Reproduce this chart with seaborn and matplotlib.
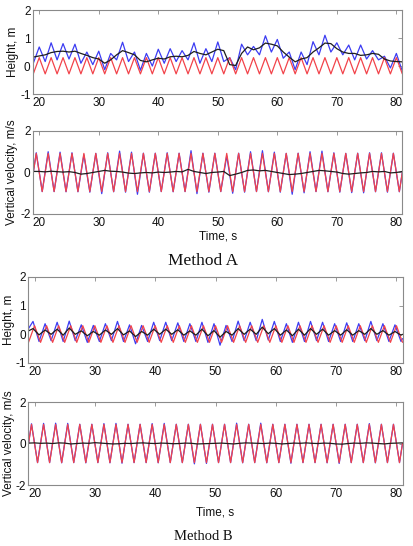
import numpy as np
import matplotlib
matplotlib.use('Agg')
import matplotlib.pyplot as plt
import seaborn as sns

# time grids (s)
t_h = np.arange(19, 82)                                                  # 19..81, one value per second
t_v = np.concatenate([[19.0], np.arange(19.5, 81.0, 1.0), [81.0]])       # velocity extrema
t_b = np.concatenate([[19.0], np.arange(19.75, 81.0, 1.0), [81.0]])      # method B height extrema

# reference (red) signals, same in both methods
red_height = [-0.28, 0.30, -0.28, 0.30, -0.28, 0.30, -0.28, 0.30, -0.28, 0.30,
              -0.28, 0.30, -0.28, 0.30, -0.28, 0.30, -0.28, 0.30, -0.28, 0.30,
              -0.28, 0.30, -0.28, 0.30, -0.28, 0.30, -0.28, 0.30, -0.28, 0.30,
              -0.28, 0.30, -0.28, 0.30, -0.28, 0.30, -0.28, 0.30, -0.28, 0.30,
              -0.28, 0.30, -0.28, 0.30, -0.28, 0.30, -0.28, 0.30, -0.28, 0.30,
              -0.28, 0.30, -0.28, 0.30, -0.28, 0.30, -0.28, 0.30, -0.28, 0.30,
              -0.28, 0.30, -0.28]
red_velocity = [0.0,
                0.92, -0.92, 0.92, -0.92, 0.92, -0.92, 0.92, -0.92, 0.92, -0.92,
                0.92, -0.92, 0.92, -0.92, 0.92, -0.92, 0.92, -0.92, 0.92, -0.92,
                0.92, -0.92, 0.92, -0.92, 0.92, -0.92, 0.92, -0.92, 0.92, -0.92,
                0.92, -0.92, 0.92, -0.92, 0.92, -0.92, 0.92, -0.92, 0.92, -0.92,
                0.92, -0.92, 0.92, -0.92, 0.92, -0.92, 0.92, -0.92, 0.92, -0.92,
                0.92, -0.92, 0.92, -0.92, 0.92, -0.92, 0.92, -0.92, 0.92, -0.92,
                0.92, -0.92,
                0.0]

# Method A
blue_height_a = [0.10, 0.68, 0.16, 0.83, 0.22, 0.80, 0.25, 0.78, 0.10, 0.50,
                 0.05, 0.53, -0.13, 0.45, 0.22, 0.85, 0.16, 0.50, -0.15, 0.45,
                 0.00, 0.60, 0.10, 0.62, 0.16, 0.55, 0.22, 0.83, 0.10, 0.62,
                 0.16, 0.86, 0.16, 0.30, -0.13, 0.78, 0.40, 0.70, 0.40, 1.08,
                 0.50, 0.95, 0.28, 0.50, -0.13, 0.50, 0.05, 0.87, 0.40, 1.10,
                 0.50, 0.83, 0.40, 0.75, 0.22, 0.75, 0.25, 0.55, 0.22, 0.35,
                 -0.07, 0.45, -0.18]
black_height_a = [0.32, 0.36, 0.40, 0.48, 0.52, 0.53, 0.50, 0.53, 0.45, 0.38,
                  0.30, 0.25, 0.10, 0.22, 0.40, 0.55, 0.48, 0.40, 0.20, 0.15,
                  0.22, 0.28, 0.25, 0.33, 0.35, 0.33, 0.38, 0.52, 0.45, 0.40,
                  0.50, 0.60, 0.55, 0.05, 0.02, 0.45, 0.68, 0.58, 0.65, 0.82,
                  0.78, 0.72, 0.50, 0.32, 0.15, 0.25, 0.30, 0.50, 0.65, 0.82,
                  0.80, 0.62, 0.50, 0.45, 0.45, 0.38, 0.40, 0.45, 0.42, 0.25,
                  0.18, 0.16, 0.15]
blue_velocity_a = [0.0,
                   0.95, -0.92, 1.00, -0.92, 0.98, -0.93, 0.95, -0.93, 0.85, -0.95,
                   0.92, -1.02, 0.95, -0.93, 1.03, -0.95, 0.98, -1.05, 0.93, -0.95,
                   0.93, -0.92, 0.95, -0.93, 0.93, -0.92, 1.05, -1.02, 0.93, -0.95,
                   0.93, -0.92, 0.80, -1.00, 0.93, -0.95, 1.00, -0.92, 1.05, -0.93,
                   0.98, -0.95, 0.92, -1.05, 0.93, -0.98, 1.00, -0.92, 1.03, -0.93,
                   0.95, -0.95, 0.92, -0.97, 0.93, -0.98, 0.95, -0.93, 0.95, -0.95,
                   0.93, -0.93,
                   0.0]
black_velocity_a = [0.05, 0.05, 0.03, 0.06, 0.04, 0.02, 0.04, 0.00, -0.08, -0.05,
                    0.00, 0.05, 0.10, 0.06, 0.05, 0.02, -0.03, -0.05, -0.02, 0.00,
                    -0.02, 0.02, 0.00, 0.02, 0.05, 0.03, 0.15, 0.05, 0.00, -0.05,
                    0.00, 0.02, 0.05, -0.15, -0.08, 0.00, 0.10, 0.12, 0.08, 0.10,
                    0.05, 0.00, -0.05, -0.10, -0.08, -0.05, 0.00, 0.05, 0.10, 0.08,
                    0.05, 0.02, -0.05, -0.08, -0.05, -0.02, 0.00, 0.05, 0.03, 0.05,
                    -0.02, 0.00, 0.05]

# Method B
blue_height_b = [0.20,
                 0.45, -0.25, 0.37, -0.22, 0.42, -0.25, 0.46, -0.22, 0.33, -0.28,
                 0.31, -0.25, 0.37, -0.22, 0.45, -0.25, 0.33, -0.33, 0.31, -0.25,
                 0.42, -0.22, 0.42, -0.22, 0.40, -0.25, 0.37, -0.25, 0.42, -0.28,
                 0.37, -0.38, 0.31, -0.25, 0.46, -0.22, 0.42, -0.22, 0.52, -0.20,
                 0.45, -0.25, 0.37, -0.28, 0.42, -0.25, 0.45, -0.22, 0.42, -0.25,
                 0.37, -0.25, 0.40, -0.25, 0.37, -0.22, 0.45, -0.22, 0.37, -0.25,
                 0.33, -0.25,
                 -0.15]
black_height_b = [0.12,
                  0.20, -0.02, 0.15, 0.00, 0.18, -0.03, 0.22, 0.00, 0.12, -0.05,
                  0.10, -0.03, 0.15, 0.00, 0.20, -0.02, 0.12, -0.08, 0.10, -0.03,
                  0.18, 0.00, 0.18, 0.00, 0.16, -0.03, 0.12, -0.03, 0.18, -0.05,
                  0.13, -0.10, 0.10, -0.03, 0.20, 0.00, 0.18, 0.00, 0.25, 0.02,
                  0.20, -0.03, 0.15, -0.05, 0.18, -0.03, 0.20, 0.00, 0.18, -0.03,
                  0.13, -0.03, 0.16, -0.03, 0.13, 0.00, 0.20, 0.00, 0.13, -0.03,
                  0.10, -0.03,
                  0.00]
blue_velocity_b = [0.0,
                   0.95, -0.92, 0.97, -0.92, 0.98, -0.93, 0.97, -0.92, 0.93, -0.93,
                   0.93, -0.92, 0.96, -0.93, 0.97, -0.95, 0.93, -0.92, 0.93, -0.92,
                   0.96, -0.93, 0.97, -0.92, 0.93, -0.92, 0.93, -0.98, 0.93, -0.96,
                   0.93, -0.92, 0.93, -0.92, 0.98, -0.93, 0.93, -0.92, 0.98, -0.93,
                   0.93, -0.92, 0.93, -0.95, 0.93, -0.92, 0.93, -0.92, 0.93, -0.93,
                   0.93, -0.96, 0.93, -0.92, 0.93, -0.92, 0.96, -0.93, 0.93, -0.92,
                   0.93, -0.92,
                   0.0]
black_velocity_b = [0.02, 0.03, 0.01, 0.02, 0.00, 0.03, 0.02, -0.02, 0.00, 0.02,
                    0.01, 0.04, 0.02, 0.00, -0.02, -0.01, 0.01, 0.00, 0.02, 0.03,
                    0.01, 0.00, 0.02, 0.01, -0.01, 0.00, 0.02, 0.01, -0.02, -0.01,
                    0.00, 0.01, 0.02, 0.00, -0.02, 0.01, 0.03, 0.02, 0.01, 0.00,
                    0.02, 0.01, -0.02, 0.00, 0.02, 0.01, 0.03, 0.01, 0.00, 0.02,
                    0.01, -0.02, -0.03, 0.00, 0.02, 0.01, 0.03, 0.02, 0.00, -0.02,
                    0.01, 0.02, 0.03]

x_ticks = [20, 30, 40, 50, 60, 70, 80]
height_ticks = [-1, 0, 1, 2]
velocity_ticks = [-2, 0, 2]

BLUE = '#3c3cf2'
RED = '#f2434a'
BLACK = '#1e1e1e'
FRAME = '#8a8a8a'

sns.set_style('white')
plt.rcParams['font.family'] = ['Liberation Sans', 'DejaVu Sans']
plt.rcParams['axes.unicode_minus'] = False

fig = plt.figure(figsize=(4.13, 5.46), dpi=100)

panels = [
    # axes rect, blue, red, black, ylim, yticks, ylabel, ylabel x, xlabel y
    ([0.0806, 0.8278, 0.8935, 0.1538], (t_h, blue_height_a), (t_h, red_height), (t_h, black_height_a),
     (-1, 2), height_ticks, 'Height, m', -0.040, None),
    ([0.0806, 0.6081, 0.8935, 0.1520], (t_v, blue_velocity_a), (t_v, red_velocity), (t_h, black_velocity_a),
     (-2, 2), velocity_ticks, 'Vertical velocity, m/s', -0.041, -0.20),
    ([0.0690, 0.3352, 0.9056, 0.1575], (t_b, blue_height_b), (t_h, red_height), (t_b, black_height_b),
     (-1, 2), height_ticks, 'Height, m', -0.036, None),
    ([0.0690, 0.1117, 0.9056, 0.1520], (t_v, blue_velocity_b), (t_v, red_velocity), (t_h, black_velocity_b),
     (-2, 2), velocity_ticks, 'Vertical velocity, m/s', -0.036, -0.253),
]

for rect, blue, red, black, ylim, yticks, ylabel, ylab_x, xlab_y in panels:
    ax = fig.add_axes(rect)
    sns.lineplot(x=blue[0], y=blue[1], ax=ax, color=BLUE, linewidth=0.9, estimator=None)
    sns.lineplot(x=red[0], y=red[1], ax=ax, color=RED, linewidth=0.9, estimator=None)
    sns.lineplot(x=black[0], y=black[1], ax=ax, color=BLACK, linewidth=0.9, estimator=None)
    ax.set_xlim(19, 81)
    ax.set_ylim(*ylim)
    ax.set_xticks(x_ticks)
    ax.set_yticks(yticks)
    ax.tick_params(direction='in', length=3, width=0.6, color=FRAME, labelsize=8.5,
                   top=True, right=True, pad=2, labelcolor='#111111')
    for sp in ax.spines.values():
        sp.set_color(FRAME)
        sp.set_linewidth(0.8)
    ax.set_ylabel(ylabel, fontsize=8.5, color='#111111')
    ax.yaxis.set_label_coords(ylab_x, 0.5)
    if xlab_y is not None:
        ax.set_xlabel('Time, s', fontsize=8.5, color='#111111')
        ax.xaxis.set_label_coords(0.5, xlab_y)
    else:
        ax.set_xlabel('')

fig.text(203 / 413, 1 - 261 / 546, 'Method A', ha='center', va='center',
         family='Liberation Serif', fontsize=12.5, color='#111111')
fig.text(203 / 413, 1 - 537 / 546, 'Method B', ha='center', va='center',
         family='Liberation Serif', fontsize=10.5, color='#111111')

fig.savefig('out.png', dpi=100)
